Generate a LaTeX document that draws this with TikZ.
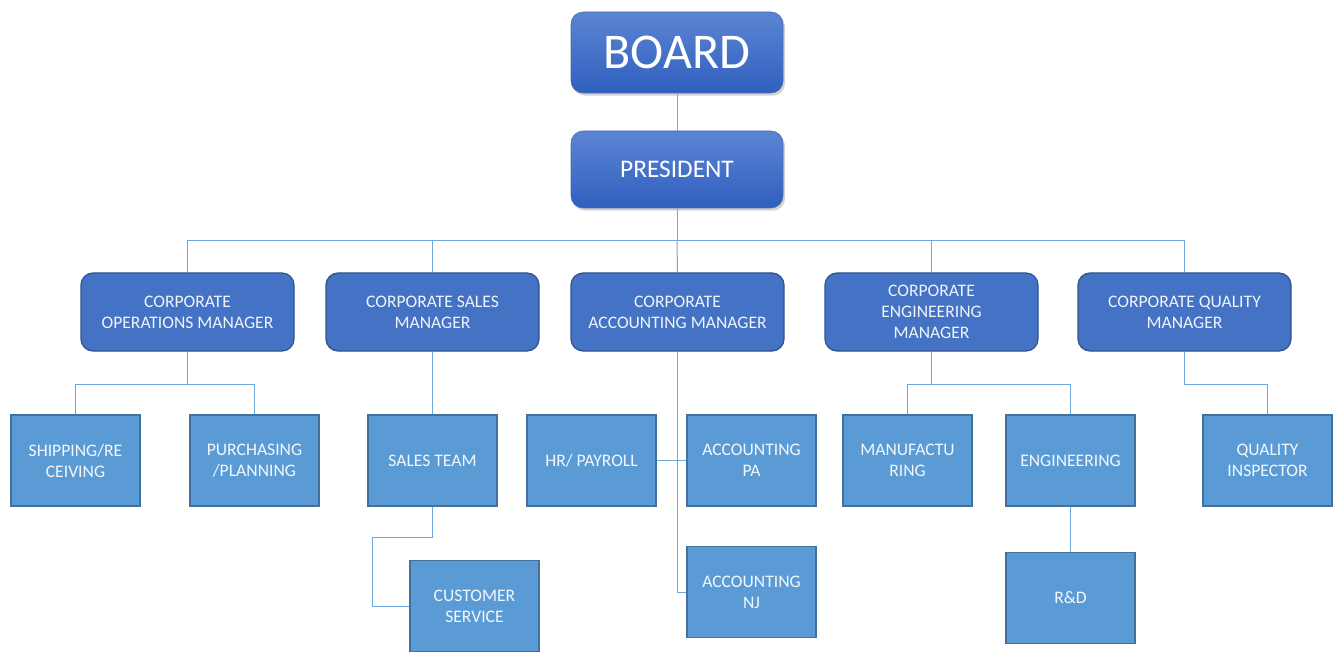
\documentclass[tikz,border=0pt]{standalone}
\usepackage{fontspec}
\setmainfont{Carlito}
\usepackage{xcolor}
\usepackage{tikz}
\usetikzlibrary{shadows}

\definecolor{topblueA}{HTML}{5C84D3}
\definecolor{topblueB}{HTML}{2F60BF}
\definecolor{mgrblue}{HTML}{4472C4}
\definecolor{mgrline}{HTML}{2F528F}
\definecolor{leafblue}{HTML}{5B9BD5}
\definecolor{leafline}{HTML}{41719C}
\definecolor{wireblue}{HTML}{6FA8DC}

\begin{document}
\begin{tikzpicture}[x=0.75pt,y=-0.75pt]

        \tikzstyle{topbox}=[rounded corners=9pt,draw=topblueA!80!black,line width=0.4pt,
            top color=topblueA,bottom color=topblueB,text=white,minimum width=159pt,
            drop shadow={opacity=0.35,shadow xshift=1.5pt,shadow yshift=-2pt}]
        \tikzstyle{mgrbox}=[rounded corners=9pt,draw=mgrline,line width=0.9pt,fill=mgrblue,
            text=white!92!mgrblue,minimum width=159.75pt,minimum height=58.5pt,align=center,
            font=\fontsize{13.2}{15.8}\selectfont]
        \tikzstyle{leafbox}=[draw=leafline,line width=1.3pt,fill=leafblue,text=white!92!leafblue,
            minimum width=96.75pt,minimum height=68.25pt,align=center,
            font=\fontsize{13.2}{15.8}\selectfont]
        \tikzstyle{wire}=[draw=wireblue,line width=0.75pt]

        \useasboundingbox (0,0) rectangle (1340,656);

        %% Top of the chart
        \node[topbox,minimum height=60.75pt,font=\fontsize{37.5}{40}\selectfont] (board) at (677,52.5) {BOARD};
        \node[topbox,minimum height=57.75pt,font=\fontsize{19}{22}\selectfont] (pres) at (677,169.5) {PRESIDENT};

        %% Managers
        \node[mgrbox] (ops) at (187.5,312) {CORPORATE\\OPERATIONS MANAGER};
        \node[mgrbox] (sales) at (432.5,312) {CORPORATE SALES\\MANAGER};
        \node[mgrbox] (acct) at (677.5,312) {CORPORATE\\ACCOUNTING MANAGER};
        \node[mgrbox] (eng) at (931.5,312) {CORPORATE\\ENGINEERING\\MANAGER};
        \node[mgrbox] (qual) at (1184.5,312) {CORPORATE QUALITY\\MANAGER};

        %% Teams
        \node[leafbox] (ship) at (75.5,460.5) {SHIPPING/RE\\CEIVING};
        \node[leafbox] (purch) at (254.5,460.5) {PURCHASING\\/PLANNING};
        \node[leafbox] (team) at (432.5,460.5) {SALES TEAM};
        \node[leafbox] (hr) at (591.5,460.5) {HR/ PAYROLL};
        \node[leafbox] (accpa) at (751.5,460.5) {ACCOUNTING\\PA};
        \node[leafbox] (manuf) at (907.5,460.5) {MANUFACTU\\RING};
        \node[leafbox] (engg) at (1070.5,460.5) {ENGINEERING};
        \node[leafbox] (inspect) at (1267.5,460.5) {QUALITY\\INSPECTOR};

        \node[leafbox] (cust) at (474.5,606) {CUSTOMER\\SERVICE};
        \node[leafbox] (accnj) at (751.5,592) {ACCOUNTING\\NJ};
        \node[leafbox] (rnd) at (1070.5,598) {R\&D};

        %% Connectors
        \coordinate (presbus) at (677,241);
        \coordinate (opsbus) at (187.5,384);
        \coordinate (engbus) at (931.5,384);
        \coordinate (qualbus) at (1184.5,384);
        \coordinate (custbend) at (372,537);

        \draw[wire] (board.south) -- (pres.north);
        \draw[wire] (pres.south) -- (presbus);
        \draw[wire] (presbus) -| (ops.north);
        \draw[wire] (presbus) -| (sales.north);
        \draw[wire] (presbus) -- (acct.north);
        \draw[wire] (presbus) -| (eng.north);
        \draw[wire] (presbus) -| (qual.north);

        \draw[wire] (ops.south) -- (opsbus) -| (ship.north);
        \draw[wire] (opsbus) -| (purch.north);

        \draw[wire] (sales.south) -- (team.north);
        \draw[wire] (team.south) |- (custbend) |- (cust.west);

        \draw[wire] (acct.south) |- (accnj.west);
        \draw[wire] (hr.east) -- (accpa.west);

        \draw[wire] (eng.south) -- (engbus) -| (manuf.north);
        \draw[wire] (engbus) -| (engg.north);
        \draw[wire] (engg.south) -- (rnd.north);

        \draw[wire] (qual.south) -- (qualbus) -| (inspect.north);

\end{tikzpicture}
\end{document}
